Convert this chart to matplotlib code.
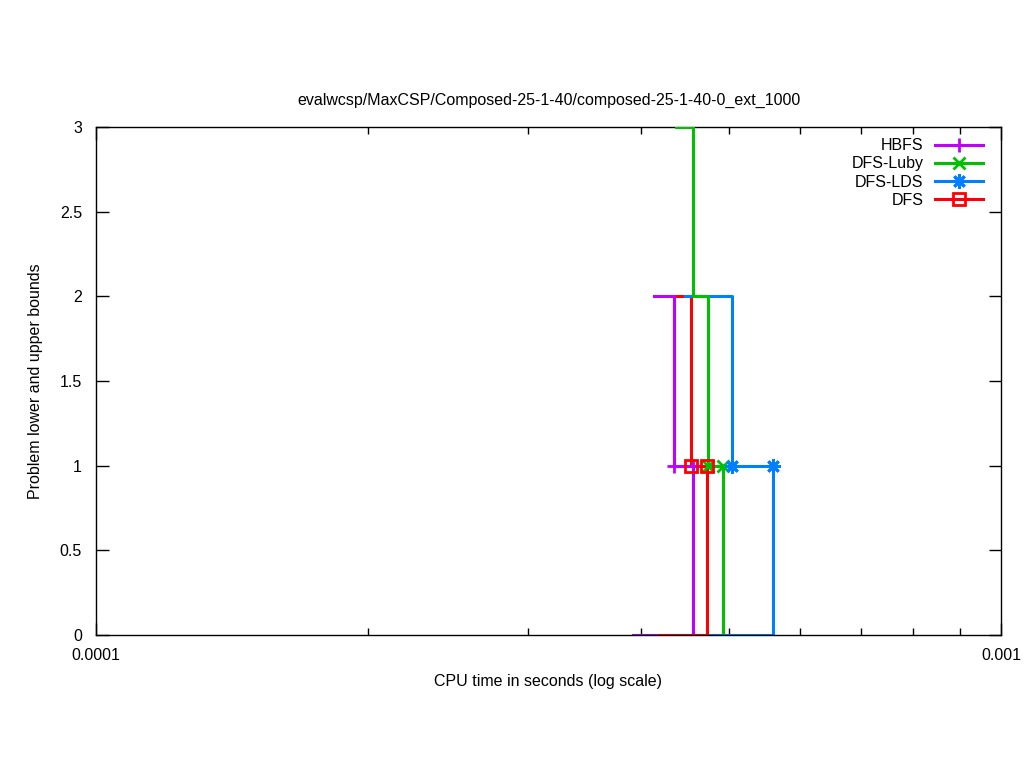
import matplotlib
matplotlib.use("Agg")
import matplotlib.pyplot as plt
from matplotlib.ticker import LogLocator, NullFormatter, FixedLocator, FixedFormatter

plt.rcParams['font.family'] = ['Liberation Sans', 'DejaVu Sans']

title = "evalwcsp/MaxCSP/Composed-25-1-40/composed-25-1-40-0_ext_1000"
names = ["HBFS", "DFS-Luby", "DFS-LDS", "DFS"]
colors = ["#c000ff", "#00c000", "#0080ff", "#ff0000"]
markers = ["+", "x", (8, 2, 0), "s"]

# upper bound steps (time, value)
hbfs_ub_t = [4.136e-4, 4.352e-4, 4.571e-4]
hbfs_ub_v = [2, 1, 1]
luby_ub_t = [4.374e-4, 4.564e-4, 4.749e-4, 4.934e-4]
luby_ub_v = [3, 2, 1, 1]
lds_ub_t = [4.475e-4, 5.041e-4, 5.595e-4]
lds_ub_v = [2, 1, 1]
dfs_ub_t = [4.363e-4, 4.544e-4, 4.733e-4]
dfs_ub_v = [2, 1, 1]

# lower bound steps (time, value)
hbfs_lb_t = [3.921e-4, 4.571e-4]
hbfs_lb_v = [0, 1]
luby_lb_t = [4.60e-4, 4.934e-4]
luby_lb_v = [0, 1]
lds_lb_t = [4.60e-4, 5.595e-4]
lds_lb_v = [0, 1]
dfs_lb_t = [4.189e-4, 4.733e-4]
dfs_lb_v = [0, 1]

ub = [(hbfs_ub_t, hbfs_ub_v), (luby_ub_t, luby_ub_v), (lds_ub_t, lds_ub_v), (dfs_ub_t, dfs_ub_v)]
lb = [(hbfs_lb_t, hbfs_lb_v), (luby_lb_t, luby_lb_v), (lds_lb_t, lds_lb_v), (dfs_lb_t, dfs_lb_v)]
ub_z = [2.5, 2.7, 2.6, 2.4]
lb_z = [2.0, 2.1, 2.2, 2.3]

FS = 11.5

fig = plt.figure(figsize=(10.24, 7.68), dpi=100)
ax = fig.add_axes([96/1024, 1-635/768, (1001-96)/1024, (635-127)/768])

lw = 2.2


def msize(m):
    if m == 's':
        return 8.5
    if m == 'x':
        return 9
    return 10.5


for i in range(4):
    c = colors[i]
    ut, uv = ub[i]
    lt, lv = lb[i]
    ax.plot(ut, uv, drawstyle='steps-post', color=c, lw=lw, zorder=ub_z[i])
    ax.plot(lt, lv, drawstyle='steps-post', color=c, lw=lw, zorder=lb_z[i])
    # markers at the points where bounds reach their final value
    ub_final = ut[[k for k in range(len(uv)) if uv[k] == uv[-1]][0]]
    mt = [ub_final, lt[-1]]
    mv = [uv[-1], lv[-1]]
    ax.plot(mt, mv, linestyle='none', marker=markers[i], color=c,
            ms=msize(markers[i]), mew=2, mfc='none', zorder=5 + i)

handles = [plt.Line2D([], [], color=colors[i], lw=lw, marker=markers[i],
                      ms=msize(markers[i]), mew=2, mfc='none')
           for i in range(4)]
leg = ax.legend(handles, names, loc='upper right', frameon=False,
                markerfirst=False, fontsize=FS, handlelength=3.0,
                borderaxespad=0.3, labelspacing=0.2, handletextpad=0.7,
                bbox_to_anchor=(0.992, 1.0))

ax.set_xscale('log')
ax.set_xlim(1e-4, 1e-3)
ax.set_ylim(0, 3)
ax.xaxis.set_major_locator(FixedLocator([1e-4, 1e-3]))
ax.xaxis.set_major_formatter(FixedFormatter(["0.0001", "0.001"]))
ax.xaxis.set_minor_locator(LogLocator(base=10, subs=range(2, 10)))
ax.xaxis.set_minor_formatter(NullFormatter())
ax.set_yticks([0, 0.5, 1, 1.5, 2, 2.5, 3])
ax.set_yticklabels(["0", "0.5", "1", "1.5", "2", "2.5", "3"])

ax.tick_params(which='both', direction='in', top=True, right=True,
               labelsize=FS, width=1)
ax.tick_params(axis='x', pad=9)
ax.tick_params(axis='y', pad=10)
ax.tick_params(which='major', length=9)
ax.tick_params(which='minor', length=5)
for s in ax.spines.values():
    s.set_linewidth(1)

ax.set_title(title, fontsize=FS, pad=16)
ax.set_xlabel("CPU time in seconds (log scale)", fontsize=FS, labelpad=8)
ax.set_ylabel("Problem lower and upper bounds", fontsize=FS, labelpad=12)

fig.savefig("out.png", dpi=100)
